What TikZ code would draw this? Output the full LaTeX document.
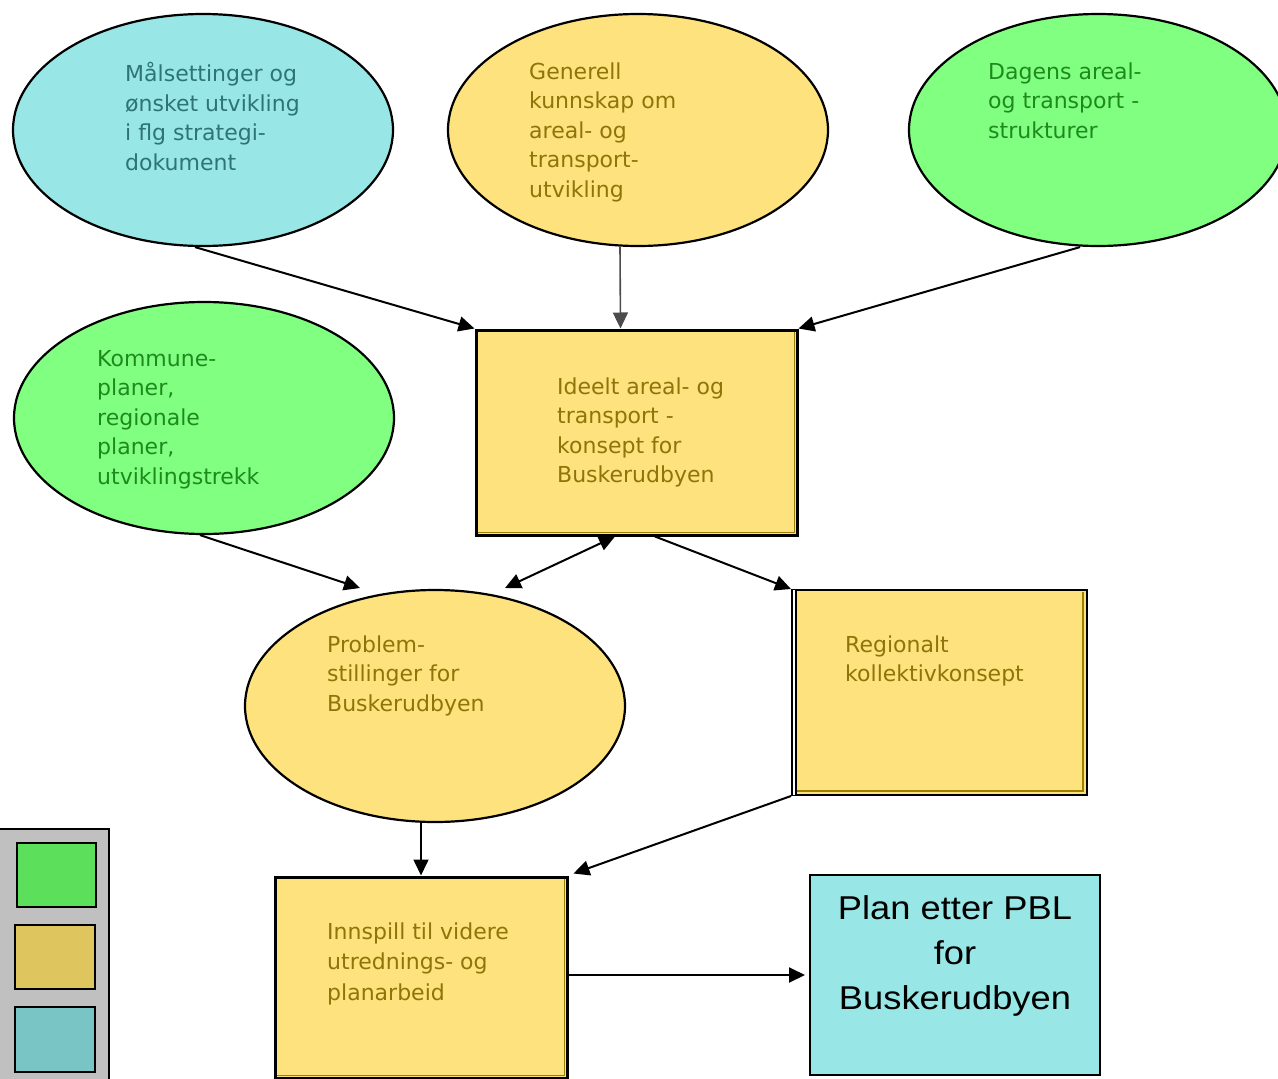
\documentclass[tikz,border=0pt]{standalone}
\usepackage{fontspec}
\setmainfont{DejaVu Sans}
\newfontfamily\plfont{Liberation Sans}
\usetikzlibrary{shapes.geometric,arrows.meta,calc}
\definecolor{cyanfill}{HTML}{98E6E6}
\definecolor{yelfill}{HTML}{FDE27E}
\definecolor{grnfill}{HTML}{80FF80}
\definecolor{cyantext}{HTML}{2E7474}
\definecolor{yeltext}{HTML}{8F7408}
\definecolor{grntext}{HTML}{1E8A1E}
\definecolor{olivedk}{HTML}{9C8000}
\definecolor{leggray}{HTML}{C0C0C0}
\definecolor{leggreen}{HTML}{5CE05C}
\definecolor{legyel}{HTML}{DEC55E}
\definecolor{legteal}{HTML}{79C5C5}
\begin{document}
\begin{tikzpicture}[x=1pt,y=-1pt,
  oval/.style={ellipse, draw=black, line width=2.2pt, minimum width=380pt, minimum height=232pt, inner sep=0pt},
  boxnode/.style={rectangle, draw=black, line width=2.5pt, inner sep=0pt, fill=yelfill},
  legsq/.style={rectangle, draw=black, line width=2pt, inner sep=0pt},
  txt/.style={anchor=north west, inner sep=0pt, align=left, font=\fontsize{22}{29.5}\selectfont},
  arr/.style={draw=black, line width=2pt, -{Triangle[length=16pt,width=15pt]}},
  innerline/.style={draw=olivedk, line width=1.5pt},
]
\clip (0,0) rectangle (1278,1079);
\fill[white] (0,0) rectangle (1278,1079);

% ellipses
\node[oval, fill=cyanfill] (e1) at (203,130) {};
\node[oval, fill=yelfill] (e2) at (638,130) {};
\node[oval, fill=grnfill, minimum width=378pt] (e3) at (1098,130) {};
\node[oval, fill=grnfill] (e4) at (204,418) {};
\node[oval, fill=yelfill] (prob) at (435,706) {};

% boxes
\node[boxnode, line width=3pt, minimum width=321pt, minimum height=205pt] (ideal) at (636.5,432.5) {};
\draw[innerline] ($(ideal.north east)+(-4,3)$) -- ($(ideal.south east)+(-4,-4)$) -- ($(ideal.south west)+(3,-4)$);
\node[boxnode, line width=2pt, minimum width=295pt, minimum height=205pt] (reg) at (939.5,692.5) {};
\draw[white, line width=2pt] ($(reg.north west)+(3,1)$) -- ($(reg.south west)+(3,-1)$);
\draw[black, line width=1.2pt] ($(reg.north west)+(5,1)$) -- ($(reg.south west)+(5,-1)$);
\draw[innerline] ($(reg.north east)+(-5,3)$) -- ($(reg.south east)+(-5,-5)$) -- ($(reg.south west)+(6,-5)$);
\node[boxnode, line width=3pt, minimum width=292pt, minimum height=201pt] (inn) at (421,977.5) {};
\draw[innerline] ($(inn.north east)+(-4,3)$) -- ($(inn.south east)+(-4,-4)$) -- ($(inn.south west)+(3,-4)$);
\node[rectangle, draw=black, line width=2pt, fill=cyanfill, minimum width=290pt, minimum height=200pt, inner sep=0pt] (plan) at (955,975) {};

% legend
\node[rectangle, draw=black, line width=2pt, fill=leggray, minimum width=114pt, minimum height=261pt, inner sep=0pt] (leg) at (52,959.5) {};
\node[legsq, fill=leggreen, minimum width=79pt, minimum height=64pt] (lg1) at (56.5,875) {};
\node[legsq, fill=legyel, minimum width=80pt, minimum height=64pt] (lg2) at (55,957) {};
\node[legsq, fill=legteal, minimum width=80pt, minimum height=65pt] (lg3) at (55,1039.5) {};

% arrows
\draw[arr] ([xshift=-8pt]e1.south) -- (ideal.north west);
\draw[arr, draw=black!70, line width=1.6pt] ([xshift=-18pt]e2.south) -- ([xshift=-16pt]ideal.north);
\draw[arr] ([xshift=-18pt]e3.south) -- (ideal.north east);
\draw[arr] ([xshift=-4pt]e4.south) -- ([xshift=-75pt,yshift=118pt]prob.center);
\draw[line width=2pt, {Triangle[length=16pt,width=15pt]}-{Triangle[length=16pt,width=15pt]}] ([xshift=-21.5pt]ideal.south) -- ([xshift=70pt,yshift=118pt]prob.center);
\draw[arr] ([xshift=18.5pt]ideal.south) -- (reg.north west);
\draw[arr, line width=1.6pt] (prob.south -| inn.north) -- (inn.north);
\draw[arr] (reg.south west) -- ([xshift=5pt,yshift=2pt]inn.north east);
\draw[arr] (inn.east |- plan.west) -- ([xshift=-4pt]plan.west);

% texts
\node[txt, text=cyantext] (t1) at (125,62) {\rule{0pt}{17pt}Målsettinger og\\ønsket utvikling\\i flg strategi-\\dokument};
\node[txt, text=yeltext] (t2) at (529,62) {\rule{0pt}{17pt}Generell\\kunnskap om\\areal- og\\transport-\\utvikling};
\node[txt, text=grntext] (t3) at (988,62) {\rule{0pt}{17pt}Dagens areal-\\og transport -\\strukturer};
\node[txt, text=grntext] (t4) at (97,349) {\rule{0pt}{17pt}Kommune-\\planer,\\regionale\\planer,\\utviklingstrekk};
\node[txt, text=yeltext] (t5) at (557,377) {\rule{0pt}{17pt}Ideelt areal- og\\transport -\\konsept for\\Buskerudbyen};
\node[txt, text=yeltext] (t6) at (327,635) {\rule{0pt}{17pt}Problem-\\stillinger for\\Buskerudbyen};
\node[txt, text=yeltext] (t7) at (845,635) {\rule{0pt}{17pt}Regionalt\\kollektivkonsept};
\node[txt, text=yeltext, font=\fontsize{22}{30.5}\selectfont] (t8) at (327,922) {\rule{0pt}{17pt}Innspill til videre\\utrednings- og\\planarbeid};
\node[anchor=north, inner sep=0pt, align=center, font=\plfont\fontsize{33}{45}\selectfont] (t9) at (955,895) {\rule{0pt}{24pt}\scalebox{1.1}[1]{Plan etter PBL}\\\scalebox{1.1}[1]{for}\\\scalebox{1.1}[1]{Buskerudbyen}};
\end{tikzpicture}
\end{document}
